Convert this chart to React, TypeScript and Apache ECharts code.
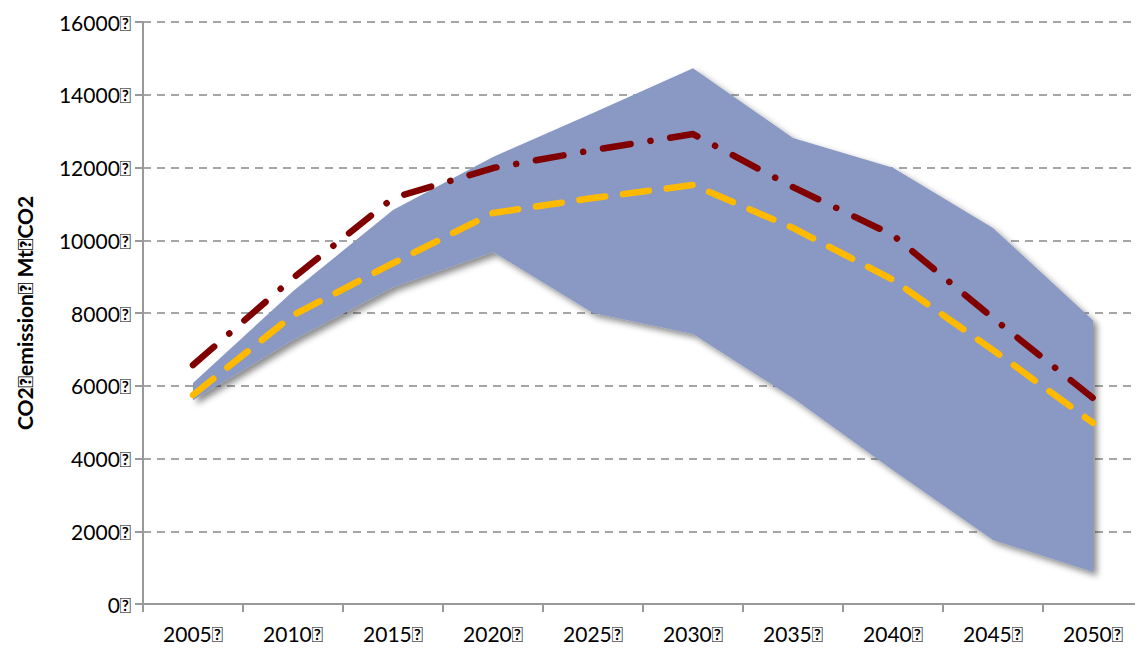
import React, { useEffect, useRef } from "react";
import * as echarts from "echarts";

const MARK = "\uE000";
const years = ["2005", "2010", "2015", "2020", "2025", "2030", "2035", "2040", "2045", "2050"];
const bandLower = [5600, 7260, 8710, 9680, 8000, 7420, 5660, 3680, 1760, 880];
const bandUpper = [6075, 8600, 10830, 12290, 13500, 14730, 12810, 11990, 10340, 7800];
const redLine = [6570, 8960, 11160, 11985, 12480, 12920, 11460, 10140, 7860, 5660];
const yellowLine = [5745, 7940, 9370, 10750, 11160, 11520, 10340, 8910, 6980, 4980];

export default function App() {
  const ref = useRef<HTMLDivElement>(null);
  useEffect(() => {
    const chart = echarts.init(ref.current!, null, { renderer: "svg" });
    const bandDiff = bandUpper.map((v, i) => v - bandLower[i]);
    chart.setOption({
      animation: false,
      grid: { left: 143, right: 0, top: 22, bottom: 46, containLabel: false },
      xAxis: {
        type: "category",
        data: years.map((y) => y + MARK),
        boundaryGap: true,
        axisLine: { lineStyle: { color: "#999", width: 2 } },
        axisTick: { show: true, length: 8, lineStyle: { color: "#999", width: 2 } },
        axisLabel: { color: "#000", fontSize: 21, fontFamily: "Lato", margin: 19 },
      },
      yAxis: {
        type: "value",
        min: 0,
        max: 16000,
        interval: 2000,
        name: "CO2" + MARK + "emission" + MARK + " Mt" + MARK + "CO2",
        nameLocation: "middle",
        nameGap: 108,
        nameRotate: 90,
        nameTextStyle: { color: "#000", fontSize: 21, fontWeight: "bold", fontFamily: "Lato" },
        axisLine: { show: true, lineStyle: { color: "#999", width: 2 } },
        axisTick: { show: true, length: 8, lineStyle: { color: "#999", width: 2 } },
        axisLabel: {
          color: "#000",
          fontSize: 21,
          fontFamily: "Lato",
          margin: 12,
          formatter: (v: number) => v + MARK,
        },
        splitLine: { lineStyle: { color: "#888", type: [8, 6], width: 1.5 } },
      },
      series: [
        {
          type: "line",
          data: bandLower,
          stack: "band",
          symbol: "none",
          lineStyle: { opacity: 0 },
          silent: true,
        },
        {
          type: "line",
          data: bandDiff,
          stack: "band",
          symbol: "none",
          lineStyle: { opacity: 0 },
          areaStyle: {
            color: "#8999c4",
            opacity: 1,
            shadowColor: "rgba(0,0,0,0.45)",
            shadowBlur: 6,
            shadowOffsetX: 4,
            shadowOffsetY: 4,
          },
          silent: true,
        },
        {
          type: "line",
          data: redLine,
          symbol: "none",
          lineStyle: { color: "#800000", width: 6.5, type: [28, 20, 0.1, 20], cap: "round", join: "round" },
        },
        {
          type: "line",
          data: yellowLine,
          symbol: "none",
          lineStyle: { color: "#FFBA00", width: 6.5, type: [26, 18], cap: "round", join: "round" },
        },
      ],
    });
    return () => chart.dispose();
  }, []);
  return <div ref={ref} style={{ width: 1143, height: 650, marginLeft: -8, marginTop: -8 }} />;
}
